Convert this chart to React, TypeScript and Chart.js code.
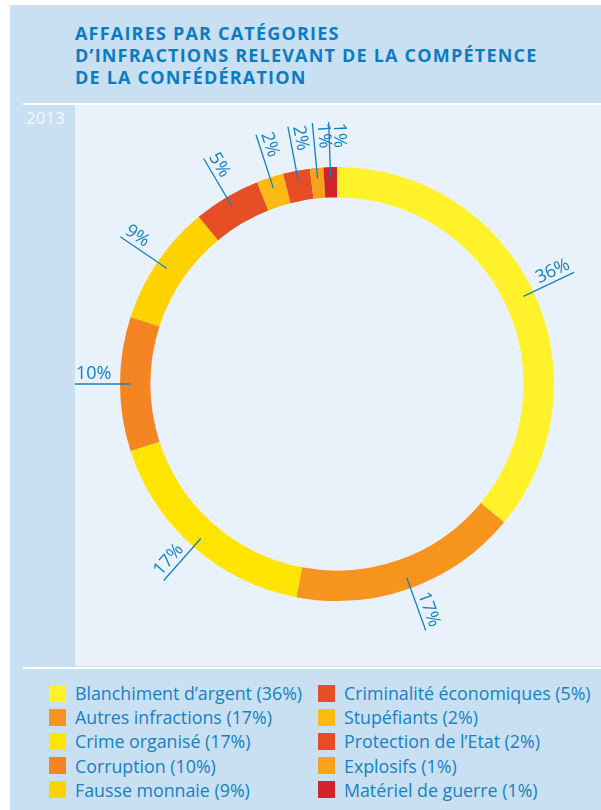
import React, { useEffect, useRef } from "react";
import { Chart, registerables } from "chart.js";

Chart.register(...registerables);

const titleLines = [
  "AFFAIRES PAR CATÉGORIES",
  "D’INFRACTIONS RELEVANT DE LA COMPÉTENCE",
  "DE LA CONFÉDÉRATION",
];
const yearLabel = "2013";
const categories = [
  "Blanchiment d’argent",
  "Autres infractions",
  "Crime organisé",
  "Corruption",
  "Fausse monnaie",
  "Criminalité économiques",
  "Stupéfiants",
  "Protection de l’Etat",
  "Explosifs",
  "Matériel de guerre",
];
const shares = [36, 17, 17, 10, 9, 5, 2, 2, 1, 1];
const sliceColors = [
  "#FFF22B",
  "#F7941E",
  "#FFE500",
  "#F58422",
  "#FFD200",
  "#E84E25",
  "#FDBA13",
  "#E84C25",
  "#F9A11B",
  "#D2232A",
];

const OUTER_BG = "#c9dff2";
const PANEL_BG = "#e9f2fa";
const BLUE = "#1581c6";
const TITLE_BLUE = "#0a7cc3";
const FONT = "'Open Sans', 'Noto Sans', sans-serif";

const leaderPlugin = {
  id: "leaders",
  afterDatasetsDraw(chart: any) {
    const ctx = chart.ctx as CanvasRenderingContext2D;
    const meta = chart.getDatasetMeta(0);
    ctx.save();
    meta.data.forEach((arc: any, i: number) => {
      const p = arc.getProps(["x", "y", "startAngle", "endAngle", "outerRadius"], true);
      const mid = (p.startAngle + p.endAngle) / 2;
      const cx = Math.cos(mid);
      const cy = Math.sin(mid);
      const r1 = p.outerRadius - 11;
      const r2 = p.outerRadius + 45;
      ctx.strokeStyle = BLUE;
      ctx.lineWidth = 1.3;
      ctx.beginPath();
      ctx.moveTo(p.x + cx * r1, p.y + cy * r1);
      ctx.lineTo(p.x + cx * r2, p.y + cy * r2);
      ctx.stroke();

      const outward = cx > 0;
      const dx = outward ? cx : -cx;
      const dy = outward ? cy : -cy;
      const theta = Math.atan2(dy, dx);
      const ra = p.outerRadius + 44;
      ctx.save();
      ctx.translate(p.x + cx * ra, p.y + cy * ra);
      ctx.rotate(theta);
      ctx.fillStyle = BLUE;
      ctx.font = `18px ${FONT}`;
      ctx.textAlign = outward ? "right" : "left";
      ctx.textBaseline = "alphabetic";
      ctx.fillText(shares[i] + "%", 0, -5);
      ctx.restore();
    });
    ctx.restore();
  },
};

export default function App() {
  const ref = useRef<HTMLCanvasElement | null>(null);

  useEffect(() => {
    if (!ref.current) return;
    const chart = new Chart(ref.current, {
      type: "doughnut",
      data: {
        labels: categories,
        datasets: [
          {
            data: shares,
            backgroundColor: sliceColors,
            borderWidth: 0,
          },
        ],
      },
      options: {
        animation: false,
        responsive: false,
        devicePixelRatio: 1,
        cutout: "86%",
        layout: { padding: { left: 45, right: 47, top: 62, bottom: 65 } },
        plugins: {
          legend: { display: false },
          tooltip: { enabled: false },
        },
      },
      plugins: [leaderPlugin],
    });
    return () => chart.destroy();
  }, []);

  const half = Math.ceil(categories.length / 2);

  return (
    <div
      style={{
        position: "absolute",
        left: 10,
        top: 5,
        width: 591,
        height: 805,
        background: OUTER_BG,
        fontFamily: FONT,
        overflow: "hidden",
      }}
    >
      <div
        style={{
          position: "absolute",
          left: 65,
          top: 17,
          color: TITLE_BLUE,
          fontWeight: 700,
          fontSize: 18,
          lineHeight: "22px",
          letterSpacing: "1.2px",
          whiteSpace: "nowrap",
        }}
      >
        {titleLines.map((t, i) => (
          <div key={i}>{t}</div>
        ))}
      </div>
      <div style={{ position: "absolute", left: 13, top: 98, right: 0, height: 2, background: "#ffffff" }} />
      <div
        style={{
          position: "absolute",
          left: 16,
          top: 102,
          color: "#f4f8fc",
          fontSize: 17,
          lineHeight: "22px",
        }}
      >
        {yearLabel}
      </div>
      <div
        style={{
          position: "absolute",
          left: 65,
          top: 100,
          width: 526,
          height: 561,
          background: PANEL_BG,
        }}
      >
        <canvas ref={ref} width={526} height={561} style={{ display: "block", width: 526, height: 561 }} />
      </div>
      <div style={{ position: "absolute", left: 13, top: 662, right: 0, height: 2, background: "#ffffff" }} />
      {categories.map((c, i) => {
        const col = i < half ? 0 : 1;
        const row = i < half ? i : i - half;
        const left = col === 0 ? 39 : 308;
        const top = 676 + row * 24.2;
        return (
          <div
            key={c}
            style={{
              position: "absolute",
              left,
              top,
              height: 24,
              display: "flex",
              alignItems: "center",
              whiteSpace: "nowrap",
            }}
          >
            <div style={{ width: 17, height: 17, background: sliceColors[i], marginRight: 9, flex: "none" }} />
            <span style={{ color: BLUE, fontSize: 17.8, lineHeight: "24px" }}>
              {c} ({shares[i]}%)
            </span>
          </div>
        );
      })}
    </div>
  );
}
